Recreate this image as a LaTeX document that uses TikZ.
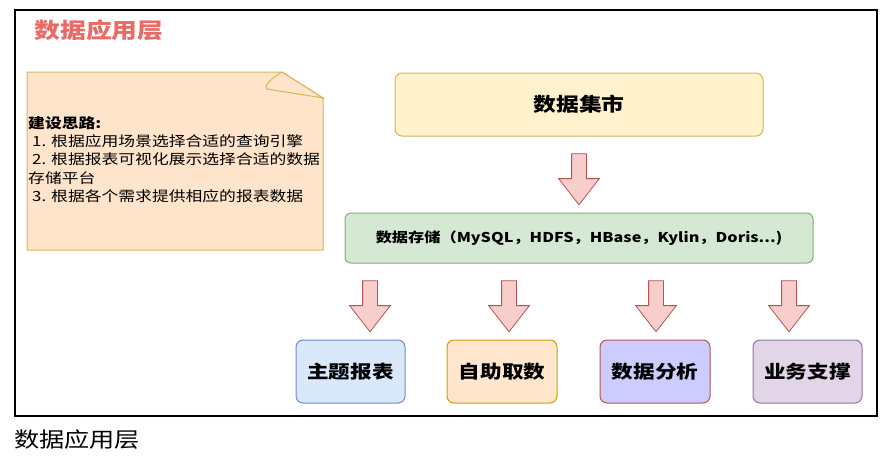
\documentclass[tikz,border=0pt]{standalone}
\usepackage{fontspec}
\setmainfont[FakeStretch=1.2]{Noto Sans CJK SC}
\usetikzlibrary{shapes.arrows}

\begin{document}
\begin{tikzpicture}[x=1pt,y=-1pt,
    box/.style={draw,rounded corners=7pt,line width=1pt,align=center,
      font=\fontsize{18}{20}\selectfont\bfseries,inner sep=0pt},
    downarrow/.style={single arrow,draw=arrowred,fill=arrowpink,line width=0.8pt,
      rotate=-90,minimum height=51pt,single arrow head extend=13pt,
      single arrow tip angle=76,inner xsep=0pt,inner ysep=7pt}]
  \definecolor{titlered}{RGB}{234,107,102}
  \definecolor{notefill}{RGB}{255,228,204}
  \definecolor{notegold}{RGB}{214,182,86}
  \definecolor{martfill}{RGB}{255,242,204}
  \definecolor{storefill}{RGB}{213,232,212}
  \definecolor{storegreen}{RGB}{130,179,102}
  \definecolor{arrowpink}{RGB}{248,206,204}
  \definecolor{arrowred}{RGB}{184,84,80}
  \definecolor{bluefill}{RGB}{218,232,252}
  \definecolor{blueline}{RGB}{108,142,191}
  \definecolor{orangefill}{RGB}{255,230,204}
  \definecolor{orangeline}{RGB}{215,155,0}
  \definecolor{violetfill}{RGB}{204,204,255}
  \definecolor{lilacfill}{RGB}{225,213,231}
  \definecolor{lilacline}{RGB}{150,115,166}

  \useasboundingbox (0,0) rectangle (895,461);
  \draw[line width=1.2pt] (15,10) rectangle (877,416);

  \node[anchor=west,text=titlered,font=\fontsize{21.5}{24}\selectfont\bfseries]
    (title) at (31,30) {数据应用层};

  % note with folded corner
  \filldraw[fill=notefill,draw=notegold,line width=1pt]
    (27,72) -- (282,72) -- (323,98) -- (323,250) -- (27,250) -- cycle;
  \filldraw[fill=notefill,draw=notegold,line width=1pt]
    (282,72) .. controls (272,78) and (263,86) .. (267,89) -- (323,98) -- cycle;
  \node[anchor=west,align=left,inner sep=0pt,font=\fontsize{14}{18.2}\selectfont]
    (note) at (28,159.5)
    {\textbf{建设思路:}\\
     \hspace{4pt}1. 根据应用场景选择合适的查询引擎\\
     \hspace{4pt}2. 根据报表可视化展示选择合适的数据\\
     存储平台\\
     \hspace{4pt}3. 根据各个需求提供相应的报表数据};

  \node[box,fill=martfill,draw=notegold,minimum width=368pt,minimum height=63pt,
    font=\fontsize{19}{20}\selectfont\bfseries] (mart) at (579,104.5) {数据集市};
  \node[box,fill=storefill,draw=storegreen,rounded corners=6pt,minimum width=468pt,
    minimum height=50pt,font=\fontsize{13.5}{15}\selectfont\bfseries]
    (store) at (579,238) {数据存储（MySQL，HDFS，HBase，Kylin，Doris...)};

  \node[downarrow] (a0) at (579,174.5) {};
  \foreach \x [count=\i] in {370,509,656,789}
    \node[downarrow] (a\i) at (\x,301.5) {};

  \node[box,fill=bluefill,draw=blueline,minimum width=109pt,minimum height=63pt]
    (report) at (350.5,371.5) {主题报表};
  \node[box,fill=orangefill,draw=orangeline,minimum width=110pt,minimum height=63pt]
    (self) at (502,371.5) {自助取数};
  \node[box,fill=violetfill,draw=arrowred,minimum width=110pt,minimum height=63pt]
    (analysis) at (655,371.5) {数据分析};
  \node[box,fill=lilacfill,draw=lilacline,minimum width=109pt,minimum height=63pt]
    (support) at (807.5,371.5) {业务支撑};

  \node[anchor=west,inner sep=0pt,font=\fontsize{21}{24}\selectfont]
    (caption) at (14,440) {数据应用层};
\end{tikzpicture}
\end{document}
